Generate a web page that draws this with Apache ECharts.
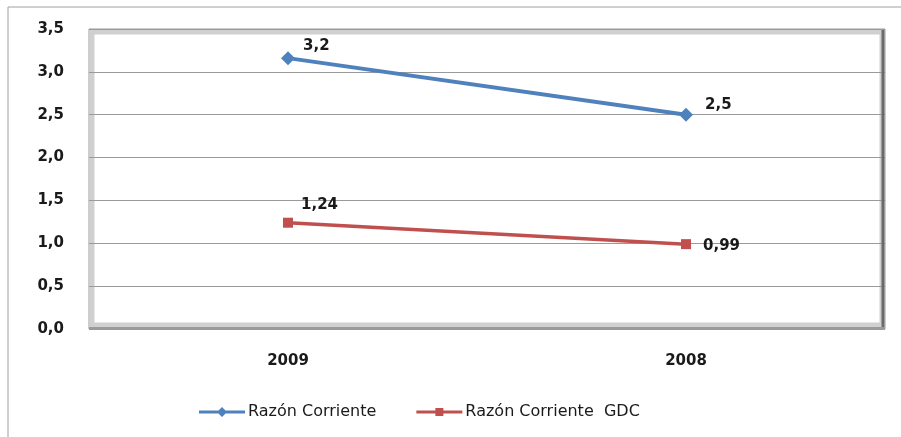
<!DOCTYPE html>
<html>
<head>
<meta charset="utf-8">
<script src="https://cdn.jsdelivr.net/npm/echarts@6/dist/echarts.min.js"></script>
<style>
  html, body { margin: 0; padding: 0; background: #fff; }
  #chart { width: 901px; height: 437px; }
</style>
</head>
<body>
<div id="chart"></div>
<script>
var years = ['2009', '2008'];
var razonCorriente = [3.16, 2.5];
var razonCorrienteGdc = [1.24, 0.99];
var labelsRc = ['3,2', '2,5'];
var labelsGdc = ['1,24', '0,99'];

var font = 'DejaVu Sans';
var chart = echarts.init(document.getElementById('chart'));

function fmt(v) {
    return v.toFixed(1).replace('.', ',');
}

// legend icons: line with marker on it
var iconDiamond = 'path://M0,3.5 L46,3.5 L46,6.5 L0,6.5 Z M23,0 L28,5 L23,10 L18,5 Z';
var iconSquare = 'path://M0,3.5 L46,3.5 L46,6.5 L0,6.5 Z M19,1 L27,1 L27,9 L19,9 Z';

var option = {
    animation: false,
    textStyle: { fontFamily: font },
    graphic: [
        { type: 'rect', shape: { x: 8, y: 7, width: 905, height: 440 },
          style: { fill: 'none', stroke: '#a0a0a0', lineWidth: 1 }, z: 0 },
        { type: 'rect', shape: { x: 92, y: 32, width: 790, height: 293 },
          style: { fill: 'none', stroke: '#d0d0d0', lineWidth: 5 }, z: 0 },
        { type: 'line', shape: { x1: 883, y1: 30, x2: 883, y2: 329 },
          style: { stroke: '#6a6a6a', lineWidth: 3 }, z: 1 },
        { type: 'line', shape: { x1: 89, y1: 328, x2: 885, y2: 328 },
          style: { stroke: '#9a9a9a', lineWidth: 2 }, z: 1 }
    ],
    grid: {
        left: 89, right: 16, top: 29, bottom: 108,
        show: true, borderColor: '#9a9a9a', borderWidth: 1
    },
    legend: {
        bottom: 12,
        left: 194,
        itemGap: 40,
        itemWidth: 46,
        itemHeight: 10,
        textStyle: { fontFamily: font, fontSize: 16, color: '#1a1a1a', padding: [0, 0, 0, -2] },
        data: [
            { name: 'Razón Corriente', icon: iconDiamond },
            { name: 'Razón Corriente  GDC', icon: iconSquare }
        ]
    },
    xAxis: {
        type: 'category',
        data: years,
        boundaryGap: true,
        axisLine: { show: false },
        axisTick: { show: false },
        axisLabel: { margin: 25, fontFamily: font, fontSize: 15, fontWeight: 'bold', color: '#1a1a1a' }
    },
    yAxis: {
        type: 'value',
        min: 0, max: 3.5, interval: 0.5,
        axisLine: { show: false },
        axisTick: { show: false },
        axisLabel: { margin: 25, fontFamily: font, fontSize: 15, fontWeight: 'bold', color: '#1a1a1a', formatter: fmt },
        splitLine: { lineStyle: { color: '#9a9a9a', width: 1 } }
    },
    series: [
        {
            name: 'Razón Corriente',
            type: 'line',
            symbol: 'diamond',
            symbolSize: 14,
            lineStyle: { color: '#4f81bd', width: 4 },
            itemStyle: { color: '#4f81bd' },
            label: {
                show: true,
                fontFamily: font, fontSize: 15, fontWeight: 'bold', color: '#1a1a1a',
                formatter: function (p) { return labelsRc[p.dataIndex]; }
            },
            data: [
                { value: razonCorriente[0], label: { position: [22, -13] } },
                { value: razonCorriente[1], label: { position: [26, -10] } }
            ]
        },
        {
            name: 'Razón Corriente  GDC',
            type: 'line',
            symbol: 'rect',
            symbolSize: 10,
            lineStyle: { color: '#c0504d', width: 3.5 },
            itemStyle: { color: '#c0504d' },
            label: {
                show: true,
                fontFamily: font, fontSize: 15, fontWeight: 'bold', color: '#1a1a1a',
                formatter: function (p) { return labelsGdc[p.dataIndex]; }
            },
            data: [
                { value: razonCorrienteGdc[0], label: { position: [18, -20] } },
                { value: razonCorrienteGdc[1], label: { position: [22, -1] } }
            ]
        }
    ]
};

chart.setOption(option);
</script>
</body>
</html>
